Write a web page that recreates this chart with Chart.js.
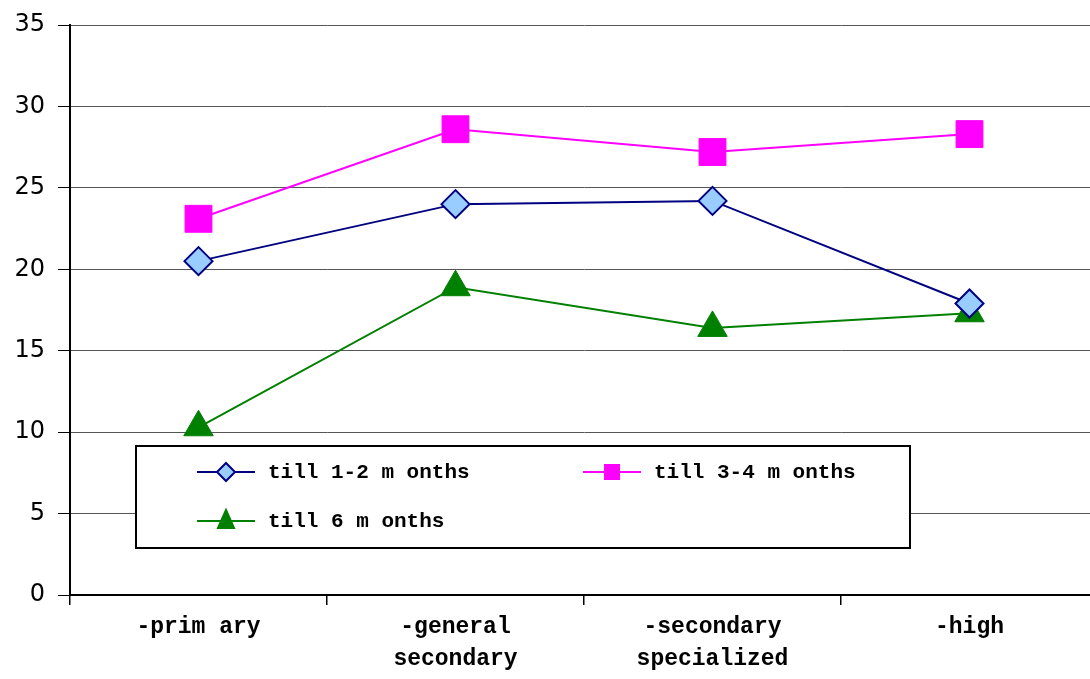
<!DOCTYPE html>
<html lang="en">
<head>
    <meta charset="UTF-8">
    <title>Months by education</title>
    <script src="https://cdn.jsdelivr.net/npm/chart.js@4/dist/chart.umd.min.js"></script>
    <style>
        body { margin: 0; padding: 0; background: #ffffff; overflow: hidden; }
        #wrap { width: 1118px; height: 679px; }
    </style>
</head>
<body>
    <div id="wrap"><canvas id="chart" width="1118" height="679"></canvas></div>
    <script>
        const categories = [['-prim ary'], ['-general', 'secondary'], ['-secondary', 'specialized'], ['-high']];
        const seriesNames = ['till 1-2 m onths', 'till 3-4 m onths', 'till 6 m onths'];
        const till12 = [20.5, 24.0, 24.2, 17.9];
        const till34 = [23.1, 28.6, 27.2, 28.3];
        const till6 = [10.3, 18.9, 16.4, 17.3];

        // legend box drawn on top of the plot, like the original
        const boxLegend = {
            id: 'boxLegend',
            afterDraw(chart) {
                const ctx = chart.ctx;
                ctx.save();
                ctx.fillStyle = '#ffffff';
                ctx.fillRect(136, 446, 774, 102);
                ctx.strokeStyle = '#000000';
                ctx.lineWidth = 2;
                ctx.strokeRect(136, 446, 774, 102);

                const slots = [[197, 472], [583, 472], [197, 521]];
                chart.data.datasets.forEach((ds, i) => {
                    const [x, y] = slots[i];
                    const cx = x + 29;
                    ctx.strokeStyle = ds.borderColor;
                    ctx.lineWidth = 2;
                    ctx.beginPath();
                    ctx.moveTo(x, y);
                    ctx.lineTo(x + 58, y);
                    ctx.stroke();

                    ctx.fillStyle = ds.pointBackgroundColor;
                    ctx.strokeStyle = ds.pointBorderColor;
                    ctx.beginPath();
                    if (ds.pointStyle === 'rectRot') {
                        ctx.moveTo(cx - 9, y); ctx.lineTo(cx, y - 9);
                        ctx.lineTo(cx + 9, y); ctx.lineTo(cx, y + 9);
                    } else if (ds.pointStyle === 'rect') {
                        ctx.rect(cx - 7, y - 7, 14, 14);
                    } else {
                        ctx.moveTo(cx, y - 11); ctx.lineTo(cx + 8, y + 7); ctx.lineTo(cx - 8, y + 7);
                    }
                    ctx.closePath();
                    ctx.fill();
                    ctx.stroke();

                    ctx.fillStyle = '#000000';
                    ctx.font = 'bold 21px "Liberation Mono"';
                    ctx.textBaseline = 'middle';
                    ctx.fillText(ds.label, x + 71, y + 1);
                });
                ctx.restore();
            }
        };

        new Chart(document.getElementById('chart'), {
            type: 'line',
            data: {
                labels: categories,
                datasets: [{
                    label: seriesNames[0],
                    data: till12,
                    borderColor: '#000080',
                    borderWidth: 2,
                    pointStyle: 'rectRot',
                    pointRadius: 14,
                    pointBackgroundColor: '#99ccff',
                    pointBorderColor: '#000080',
                    pointBorderWidth: 2
                }, {
                    label: seriesNames[1],
                    data: till34,
                    borderColor: '#ff00ff',
                    borderWidth: 2,
                    pointStyle: 'rect',
                    pointRadius: 19,
                    pointBackgroundColor: '#ff00ff',
                    pointBorderColor: '#ff00ff',
                    pointBorderWidth: 1
                }, {
                    label: seriesNames[2],
                    data: till6,
                    borderColor: '#008000',
                    borderWidth: 2,
                    pointStyle: 'triangle',
                    pointRadius: 17,
                    pointBackgroundColor: '#008000',
                    pointBorderColor: '#008000',
                    pointBorderWidth: 1
                }]
            },
            options: {
                responsive: false,
                animation: false,
                devicePixelRatio: 1,
                layout: { padding: { top: 24, right: 2, left: 0, bottom: 0 } },
                plugins: { legend: { display: false }, tooltip: { enabled: false } },
                scales: {
                    x: {
                        offset: true,
                        afterFit: s => { s.height = 84; },
                        grid: { offset: true, drawOnChartArea: false, tickLength: 10, color: '#000000', lineWidth: 1.5 },
                        border: { color: '#000000', width: 2 },
                        ticks: {
                            color: '#000000',
                            padding: 6,
                            maxRotation: 0,
                            font: { family: '"Liberation Mono"', size: 23, weight: 'bold', lineHeight: 1.4 }
                        }
                    },
                    y: {
                        min: 0,
                        max: 35,
                        afterFit: s => { s.width = 70; },
                        grid: { color: '#555555', lineWidth: 1, tickLength: 12, tickColor: '#000000' },
                        border: { color: '#000000', width: 2 },
                        ticks: {
                            stepSize: 5,
                            color: '#000000',
                            padding: 13,
                            font: { family: '"DejaVu Sans"', size: 24, lineHeight: 1 }
                        }
                    }
                }
            },
            plugins: [boxLegend]
        });
    </script>
</body>
</html>
